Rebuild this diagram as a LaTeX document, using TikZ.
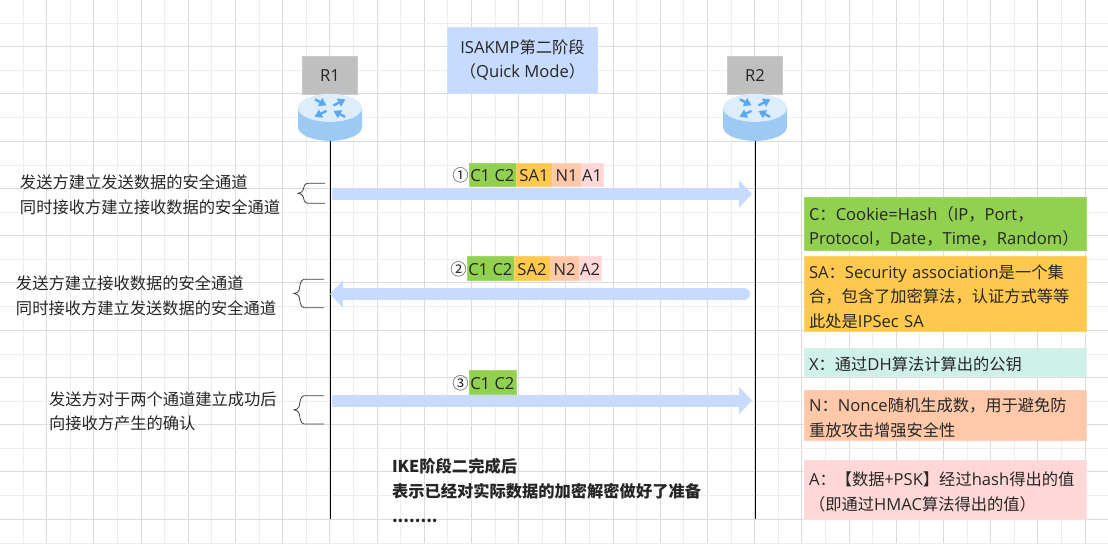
\documentclass[tikz,border=0pt]{standalone}
\usepackage{fontspec}
\setmainfont{Noto Sans CJK SC}
\newfontfamily\latfont[Scale=1.02]{Open Sans}
\newcommand{\en}[1]{{\latfont #1}}
\usetikzlibrary{positioning,arrows.meta}
\AtBeginDocument{\normallineskiplimit=-6pt \lineskiplimit=-6pt}
\definecolor{boxblue}{HTML}{C6DBFD}
\definecolor{boxgray}{HTML}{BFBFBF}
\definecolor{cgreen}{HTML}{92D050}
\definecolor{corange}{HTML}{FFC94F}
\definecolor{cteal}{HTML}{CEF0E8}
\definecolor{cpeach}{HTML}{FFC9A9}
\definecolor{cpink}{HTML}{FFD7D7}
\definecolor{rtop}{HTML}{DEEDFC}
\definecolor{rside}{HTML}{9CCAF5}
\definecolor{rarrow}{HTML}{5BA8EC}
\definecolor{inktext}{HTML}{262626}
\newcommand{\sidebrace}[4]{%
  \pgfmathsetmacro{\bmid}{(#3+#4)/2}
  \draw[bracel] (#2,#3) -- ({#1+10},#3) .. controls ({#1+6},#3) and ({#1+6},{\bmid-6}) .. ({#1+5},{\bmid-3})
    .. controls ({#1+4.5},{\bmid-1.5}) and ({#1+2},\bmid) .. (#1,\bmid)
    .. controls ({#1+2},\bmid) and ({#1+4.5},{\bmid+1.5}) .. ({#1+5},{\bmid+3})
    .. controls ({#1+6},{\bmid+6}) and ({#1+6},#4) .. ({#1+10},#4) -- (#2,#4);
}
\tikzset{
  gridmajor/.style={draw=black!14,line width=.75pt},
  gridminor/.style={draw=black!7,line width=.75pt},
  txt/.style={font=\fontsize{12.2pt}{18.4pt}\selectfont,text=inktext,inner sep=0pt,outer sep=0pt},
  sidetext/.style={txt,anchor=west,align=left},
  headbox/.style={txt,align=center,draw=#1!85!white,fill=#1,line width=.5pt},
  cellnum/.style={txt,text height=12pt,text depth=1.3pt},
  cell/.style={cellnum,fill=#1,draw=#1!85!white,line width=.3pt,minimum height=17.6pt},
  legend/.style={txt,fill=#1,draw=#1!85!white,line width=.4pt,minimum width=211.8pt,text width=204.6pt,align=left,
    execute at begin node={\rule{0pt}{14pt}}},
  lifeline/.style={draw=black,line width=.7pt},
  msg/.style={draw=boxblue,line width=9pt},
  msgtip/.style={-{Triangle[length=9.75pt,width=20pt]}},
  bracel/.style={draw=black!75,line width=.6pt},
  routerbox/.style={minimum width=48pt,minimum height=35.25pt,inner sep=0pt,outer sep=0pt,path picture={
    \begin{scope}[shift={(path picture bounding box.center)}]
      \fill[rside] (-32,-9.5) -- (-32,9.5) arc[start angle=180,end angle=360,x radius=24pt,y radius=10.5pt] -- (32,-9.5) -- cycle;
      \fill[rtop] (0,-9.5) ellipse[x radius=24pt,y radius=10.5pt];
      \foreach \xa/\ya/\xb/\yb in {-15/-18/-3.5/-12,3.5/-12/15.5/-18,-3.5/-6.5/-15.5/-0.5,15/-0.5/3.5/-6.5}
        \draw[rarrow,line width=1.8pt,-{Triangle[length=5.5pt,width=6.5pt]}] (\xa,\ya) -- (\xb,\yb);
    \end{scope}}},
}
\begin{document}
\begin{tikzpicture}[x=.75pt,y=-.75pt]
\useasboundingbox (0,0) rectangle (1108,544);
\fill[white] (0,0) rectangle (1108,544);

% background grid
\foreach \k in {0,...,22} {
  \draw[gridminor] ({23+47.2*\k},0) -- ({23+47.2*\k},544);
  \draw[gridmajor] ({46.6+47.2*\k},0) -- ({46.6+47.2*\k},544);
}
\foreach \k in {0,...,11} \draw[gridminor] (0,{23.3+47.25*\k}) -- (1108,{23.3+47.25*\k});
\foreach \k in {0,...,10} \draw[gridmajor] (0,{46.5+47.25*\k}) -- (1108,{46.5+47.25*\k});

\node[headbox=boxblue,minimum width=112.5pt,minimum height=49.5pt] (title) at (522.5,60) {\en{ISAKMP}第二阶段\\（\en{Quick Mode}）};

\node[headbox=boxgray,minimum width=41pt,minimum height=28pt] (r1) at (330,75.2) {\en{R1}};
\node[headbox=boxgray,minimum width=41pt,minimum height=28pt] (r2) at (755,75.2) {\en{R2}};
\node[routerbox,below=0pt of r1] (rt1) {};
\node[routerbox,below=0pt of r2] (rt2) {};

\coordinate (end1) at (330,519);
\coordinate (end2) at (755,519);
\draw[lifeline] (rt1.south) -- (end1);
\draw[lifeline] (rt2.south) -- (end2);

\coordinate (l1) at (330,194);
\coordinate (m1) at (755,194);
\coordinate (l2) at (330,294);
\coordinate (m2) at (755,294);
\coordinate (l3) at (330,400.5);
\coordinate (m3) at (755,400.5);
\draw[msg,msgtip,shorten <=1.5pt,shorten >=2.25pt] (l1) -- (m1);
\draw[msg,msgtip,line cap=round,shorten <=8.25pt] (m2) -- (l2);
\draw[msg,msgtip,shorten <=1.5pt,shorten >=2.25pt] (l3) -- (m3);

% first message
\node[cell=cgreen,anchor=west,minimum width=35.5pt] (c1) at (468.7,174.5) {\en{C1 C2}};
\node[cellnum,left=0pt of c1] (no1) {①};
\node[cell=corange,right=0pt of c1,minimum width=27pt] (sa1) {\en{SA1}};
\node[cell=cpeach,right=0pt of sa1,minimum width=21.75pt] (n1) {\en{N1}};
\node[cell=cpink,right=0pt of n1,minimum width=16.5pt] (a1) {\en{A1}};

% second message
\node[cell=cgreen,anchor=west,minimum width=35.5pt] (c2) at (466.7,268) {\en{C1 C2}};
\node[cellnum,left=0pt of c2] (no2) {②};
\node[cell=corange,right=0pt of c2,minimum width=27pt] (sa2) {\en{SA2}};
\node[cell=cpeach,right=0pt of sa2,minimum width=21.75pt] (n2) {\en{N2}};
\node[cell=cpink,right=0pt of n2,minimum width=16.5pt] (a2) {\en{A2}};

% third message
\node[cell=cgreen,anchor=west,minimum width=35.5pt] (c3) at (468.7,382) {\en{C1 C2}};
\node[cellnum,left=0pt of c3] (no3) {③};

\node[sidetext] (s1) at (20,195) {发送方建立发送数据的安全通道\\同时接收方建立接收数据的安全通道};
\node[sidetext] (s2) at (16,295.5) {发送方建立接收数据的安全通道\\同时接收方建立发送数据的安全通道};
\node[sidetext] (s3) at (49,411.5) {发送方对于两个通道建立成功后\\向接收方产生的确认};

\sidebrace{298}{325}{183.3}{203.3}
\sidebrace{294}{324}{279.3}{307.7}
\sidebrace{294}{324}{395.7}{424}

\node[legend=cgreen,minimum height=40pt] (cbox) at (945.5,224) {C：\en{Cookie=Hash}（\en{IP}，\en{Port}，\\\en{Protocol}，\en{Date}，\en{Time}，\en{Random}）};
\node[legend=corange,minimum height=56pt,below=4.5pt of cbox] (sabox) {\en{SA}：\en{Security association}是一个集\\合，包含了加密算法，认证方式等等\\此处是\en{IPSec SA}};
\node[legend=cteal,minimum height=20.5pt,below=13pt of sabox] (xbox) {\en{X}：通过\en{DH}算法计算出的公钥};
\node[legend=cpeach,minimum height=37pt,below=11pt of xbox] (nbox) {\en{N}：\en{Nonce}随机生成数，用于避免防\\重放攻击增强安全性};
\node[legend=cpink,minimum height=44.5pt,below=15pt of nbox] (abox) {\en{A}：【数据+\en{PSK}】经过\en{hash}得出的值\\（即通过\en{HMAC}算法得出的值）};

\node[sidetext,font=\fontsize{12.2pt}{18.4pt}\selectfont\bfseries] (done) at (392,490.5) {IKE阶段二完成后\\表示已经对实际数据的加密解密做好了准备\\........};
\end{tikzpicture}
\end{document}
